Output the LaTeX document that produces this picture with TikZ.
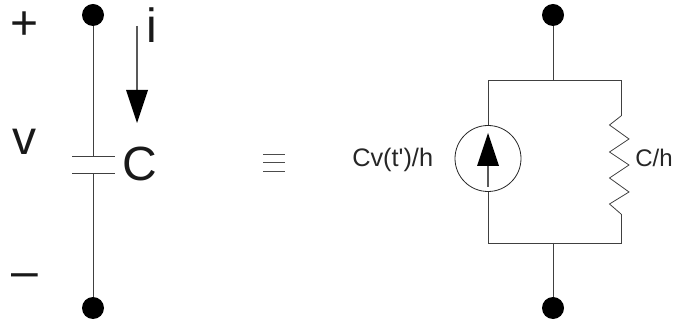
\documentclass[tikz,border=0pt]{standalone}
\usepackage{fontspec}
\setmainfont{Liberation Sans}
\newfontfamily\plainsans{Liberation Sans}
\tikzset{
  px/.style={x=0.75pt,y=-0.75pt},
  wire/.style={line width=0.6pt,draw=black!75},
  equivbar/.style={line width=0.7pt,draw=black!70},
  terminal/.style={circle,fill=black,inner sep=0pt,minimum size=16.5pt},
  big/.style={font=\fontsize{36}{36}\selectfont,text=black!90,inner sep=0pt,anchor=base},
  small/.style={font=\plainsans\fontsize{19}{19}\selectfont,text=black!85,inner sep=0pt,anchor=base west},
  smaller/.style={font=\fontsize{18}{18}\selectfont,text=black!85,inner sep=0pt,anchor=base west},
  source/.style={circle,draw=black!85,line width=0.6pt,fill=white,inner sep=0pt,minimum size=49.5pt},
  head/.style={fill=black},
}
\begin{document}
\begin{tikzpicture}[px]
\useasboundingbox (0,0) rectangle (673,323);
% left
\node[terminal] (lt) at (93,15) {};
\node[terminal] (lb) at (93,308) {};
\coordinate (pa) at (93,156);
\coordinate (pb) at (93,173.5);
\coordinate (pal) at (72,156);
\coordinate (par) at (115,156);
\coordinate (pbl) at (72,173.5);
\coordinate (pbr) at (115,173.5);
\draw[wire] (lt) -- (pa);
\draw[wire] (pb) -- (lb);
\draw[wire] (pal) -- (par);
\draw[wire] (pbl) -- (pbr);
\coordinate (as) at (137,26);
\coordinate (ab) at (137,90);
\draw[line width=0.9pt,draw=black!65] (as) -- (ab);
\fill[head] (126,90) -- (148,90) -- (137,123) -- cycle;
\node[big] (plus) at (25,40) {+};
\node[big] (vv) at (24.5,155) {v};
\node[big] (cc) at (139.5,180.5) {C};
\node[big] (ii) at (152,43) {i};
\node[big] (minus) at (25,288) {–};
% equiv
\coordinate (e1a) at (263,154);
\coordinate (e1b) at (285,154);
\coordinate (e2a) at (263,162.7);
\coordinate (e2b) at (285,162.7);
\coordinate (e3a) at (263,171);
\coordinate (e3b) at (285,171);
\draw[equivbar] (e1a) -- (e1b);
\draw[equivbar] (e2a) -- (e2b);
\draw[equivbar] (e3a) -- (e3b);
% right
\node[terminal] (rt) at (553,15) {};
\node[terminal] (rb) at (553,308) {};
\coordinate (tj) at (553,80);
\coordinate (bj) at (553,243);
\coordinate (tl) at (488,80);
\coordinate (tr) at (621,80);
\coordinate (bl) at (488,243);
\coordinate (br) at (621,243);
\coordinate (rs) at (621,116);
\coordinate (re) at (621,214);
\draw[wire] (rt) -- (tj);
\draw[wire] (bj) -- (rb);
\node[source] (src) at (488,158.5) {};
\draw[wire] (src) -- (tl) -- (tr) -- (rs);
\draw[wire] (src) -- (bl) -- (br) -- (re);
\draw[wire,line join=miter] (rs) -- (609.5,125) -- (629,139) -- (609.5,152) -- (629,165) -- (609.5,178) -- (629,192) -- (609.5,204) -- (re);
\draw[line width=0.9pt,draw=black!65] (488,166) -- (488,187);
\fill[head] (477,166) -- (499,166) -- (488,133) -- cycle;
\node[small] (cv) at (352,166.5) {Cv(t')/h};
\node[smaller] (ch) at (635,166.5) {C/h};
\end{tikzpicture}
\end{document}
